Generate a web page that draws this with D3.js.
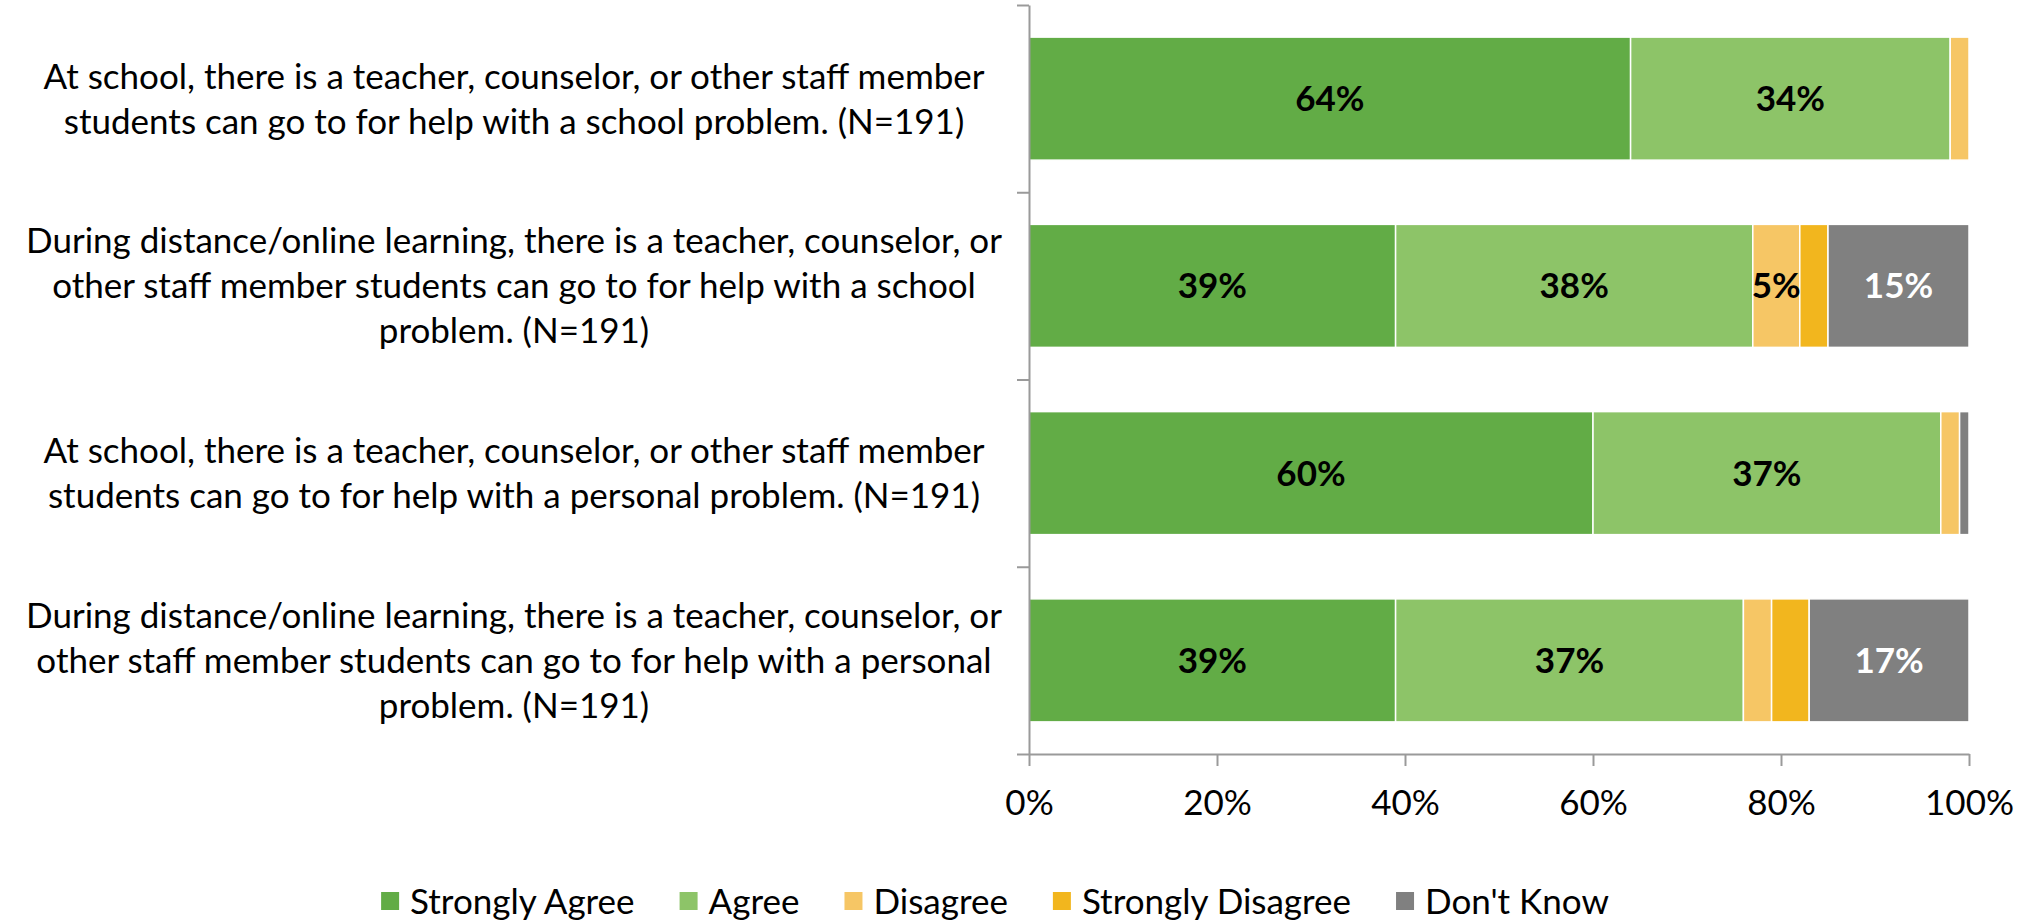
<!DOCTYPE html>
<html><head><meta charset="utf-8">
<script src="https://cdn.jsdelivr.net/npm/d3@7"></script>
<style>body{margin:0;background:#fff;} svg{display:block;}</style>
</head><body>
<svg id="chart" width="2030" height="922"></svg>
<script>
const categories = [
  "At school, there is a teacher, counselor, or other staff member\nstudents can go to for help with a school problem. (N=191)",
  "During distance/online learning, there is a teacher, counselor, or\nother staff member students can go to for help with a school\nproblem. (N=191)",
  "At school, there is a teacher, counselor, or other staff member\nstudents can go to for help with a personal problem. (N=191)",
  "During distance/online learning, there is a teacher, counselor, or\nother staff member students can go to for help with a personal\nproblem. (N=191)"
];
const seriesNames = ["Strongly Agree", "Agree", "Disagree", "Strongly Disagree", "Don't Know"];
const stronglyAgree    = [64, 39, 60, 39];
const agree            = [34, 38, 37, 37];
const disagree         = [2, 5, 2, 3];
const stronglyDisagree = [0, 3, 0, 4];
const dontKnow         = [0, 15, 1, 17];
const xTickValues = [0, 20, 40, 60, 80, 100];
const seriesColors = ["#62AC46", "#8DC468", "#F6C665", "#F2B61E", "#808080"];
const labelColors  = ["#000", "#000", "#000", "#000", "#fff"];

const seriesValues = [stronglyAgree, agree, disagree, stronglyDisagree, dontKnow];
const FONT = "Lato, 'Liberation Sans', sans-serif";
const FS = 35;
const AXIS = "#9a9a9a";

const svg = d3.select("#chart");
const plot = {left: 1029, right: 1969, top: 5, bottom: 754};

const x = d3.scaleLinear().domain([0, 100]).range([plot.left, plot.right]);
const y = d3.scaleBand().domain(d3.range(categories.length))
  .range([plot.top, plot.bottom]).paddingInner(0.343).paddingOuter(0.1715);

const rows = categories.map((c, i) => {
  const o = {idx: i};
  seriesNames.forEach((s, j) => o[s] = seriesValues[j][i]);
  return o;
});
const stack = d3.stack().keys(seriesNames)(rows);

// bars
const g = svg.append("g");
stack.forEach((layer, j) => {
  g.selectAll(null).data(layer).join("rect")
    .attr("x", d => x(d[0]))
    .attr("y", d => y(d.data.idx))
    .attr("width", d => Math.max(0, x(d[1]) - x(d[0])))
    .attr("height", y.bandwidth())
    .attr("fill", seriesColors[j])
    .attr("stroke", "#fff").attr("stroke-width", d => (d[1] - d[0]) > 0 ? 1.5 : 0);
});
// value labels
stack.forEach((layer, j) => {
  g.selectAll(null).data(layer.filter(d => (d[1] - d[0]) >= 5)).join("text")
    .attr("x", d => (x(d[0]) + x(d[1])) / 2)
    .attr("y", d => y(d.data.idx) + y.bandwidth() / 2)
    .attr("dy", "0.36em")
    .attr("text-anchor", "middle")
    .attr("font-family", FONT).attr("font-size", FS).attr("font-weight", "bold")
    .attr("fill", labelColors[j])
    .text(d => (d[1] - d[0]) + "%");
});

// left axis (category boundaries)
const yb = d3.scaleLinear().domain([0, categories.length]).range([plot.top, plot.bottom]);
const leftAxis = svg.append("g").attr("transform", `translate(${plot.left},0)`)
  .call(d3.axisLeft(yb).tickValues(d3.range(categories.length + 1)).tickSize(12).tickSizeOuter(0).tickFormat(""));
leftAxis.selectAll("path,line").attr("stroke", AXIS).attr("stroke-width", 2);

// bottom axis
const bottomAxis = svg.append("g").attr("transform", `translate(0,${plot.bottom})`)
  .call(d3.axisBottom(x).tickValues(xTickValues).tickSize(12).tickSizeOuter(0).tickPadding(24).tickFormat(d => d + "%"));
bottomAxis.selectAll("path,line").attr("stroke", AXIS).attr("stroke-width", 2);
bottomAxis.selectAll("text").attr("font-family", FONT).attr("font-size", FS).attr("fill", "#000");

// category labels
const catG = svg.append("g");
categories.forEach((c, i) => {
  const lines = c.split("\n");
  const lh = 45;
  const cy = y(i) + y.bandwidth() / 2;
  const t = catG.append("text")
    .attr("text-anchor", "middle")
    .attr("font-family", FONT).attr("font-size", FS).attr("fill", "#000");
  lines.forEach((ln, k) => {
    t.append("tspan").attr("x", 514)
      .attr("y", cy + (k - (lines.length - 1) / 2) * lh)
      .attr("dy", "0.36em").text(ln);
  });
});

// legend
const leg = svg.append("g");
const items = seriesNames.map((s, j) => {
  const it = leg.append("g");
  it.append("rect").attr("width", 18).attr("height", 18).attr("y", -9).attr("fill", seriesColors[j]);
  const tx = it.append("text").attr("x", 29).attr("dy", "0.36em")
    .attr("font-family", FONT).attr("font-size", FS).attr("fill", "#000").text(s);
  return {it, w: 29 + tx.node().getComputedTextLength()};
});
const gap = 45;
const total = d3.sum(items, d => d.w) + gap * (items.length - 1);
let lx = 995 - total / 2;
items.forEach(d => { d.it.attr("transform", `translate(${lx},901)`); lx += d.w + gap; });
</script>
</body></html>
